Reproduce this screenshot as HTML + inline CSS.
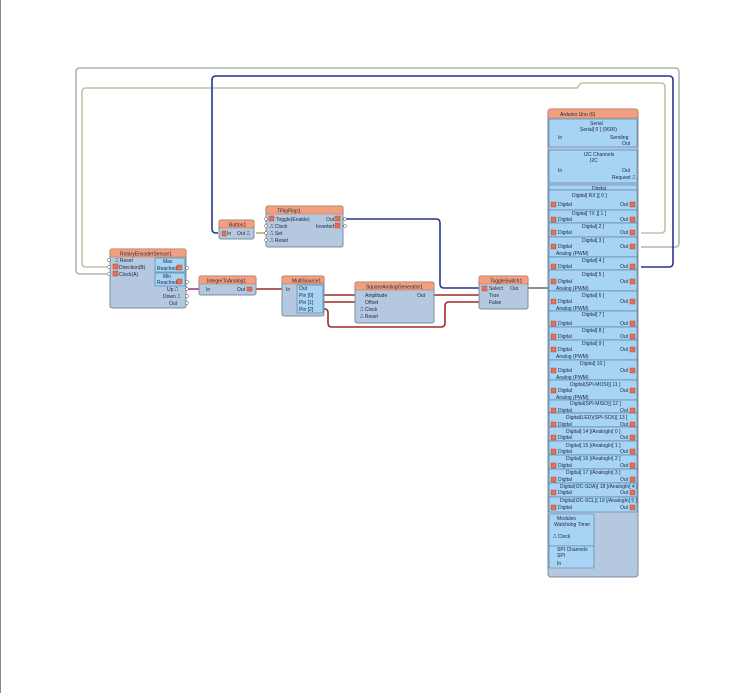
<!DOCTYPE html>
<html><head><meta charset="utf-8"><style>
html,body{margin:0;padding:0;background:#fff}
svg{display:block}
text{font-family:"Liberation Sans",sans-serif;font-size:5px;fill:#1a2540}
.b{fill:#b4c8e0;stroke:#7f8c9c;stroke-width:1}
.t{fill:#f0a080;stroke:#c07050;stroke-width:.6}
.s{fill:#a8d4f4;stroke:#5078a0;stroke-width:.6}
.p{fill:#fff;stroke:#555;stroke-width:.5}
.r{fill:#e87050;stroke:#a04030;stroke-width:.4}
</style></head><body>
<svg width="748" height="693" viewBox="0 0 748 693" xmlns="http://www.w3.org/2000/svg">
<line x1="0.5" y1="0" x2="0.5" y2="693" stroke="#888"/>
<!-- long wires -->
<g fill="none" stroke-width="1.6" stroke-linejoin="round">
<path d="M107,274 H80 Q76,274 76,270 V72 Q76,68 80,68 H675 Q679,68 679,72 V243 Q679,247 675,247 H641" stroke="#a8b8b0"/>
<path d="M107,267 H86 Q82,267 82,263 V92 Q82,88 86,88 H577 L581,83 H661 Q665,83 665,87 V229 Q665,233 661,233 H641" stroke="#c0c0a8"/>
<path d="M218,233 H216 Q212,233 212,229 V80 Q212,76 216,76 H669 Q673,76 673,80 V263 Q673,267 669,267 H641" stroke="#2a3590"/>
<path d="M346,219 H436 Q440,219 440,223 V284 Q440,288 444,288 H479" stroke="#2a3590"/>
<path d="M256,233 H267" stroke="#c8a850"/>
<path d="M187,289 H200" stroke="#a03898"/>
<path d="M256,289 H284" stroke="#a02828"/>
<path d="M323,295 H356 M323,302 H356 M434,295 H479" stroke="#a02828"/>
<path d="M323,309 H325 Q328,309 328,313 V323 Q328,327 332,327 H441 Q445,327 445,323 V306 Q445,302 449,302 H479" stroke="#a02828"/>
<path d="M528,288 H549" stroke="#606870"/>
</g>
<!-- Rotary encoder -->
<rect class="b" x="110" y="249" width="76" height="59" rx="2"/>
<rect class="t" x="110" y="249" width="76" height="8" rx="2"/>
<text x="120" y="255.5">RotaryEncoderSensor1</text>
<text x="115" y="262">⎍ Reset</text><text x="119" y="269">Direction(B)</text><text x="119" y="276">Clock(A)</text>
<rect class="r" x="113" y="264" width="5" height="5"/><rect class="r" x="113" y="271" width="5" height="5"/>
<rect class="s" x="155" y="258" width="30" height="14"/><text x="163" y="263">Max</text><text x="157" y="270">Reached</text><rect class="r" x="177" y="265" width="5" height="5"/>
<rect class="s" x="155" y="273" width="30" height="13"/><text x="163" y="278">Min</text><text x="157" y="284">Reached</text><rect class="r" x="177" y="279" width="5" height="5"/>
<text x="167" y="291">Up ⎍</text><text x="163" y="298">Down ⎍</text><text x="169" y="305">Out</text>
<g class="p"><circle cx="109" cy="260" r="1.5"/><circle cx="109" cy="267" r="1.5"/><circle cx="109" cy="274" r="1.5"/><circle cx="187" cy="268" r="1.5"/><circle cx="187" cy="282" r="1.5"/><circle cx="187" cy="289" r="1.5"/><circle cx="187" cy="296" r="1.5"/><circle cx="187" cy="303" r="1.5"/></g>
<!-- Integer to analog -->
<rect class="b" x="199" y="276" width="57" height="19" rx="2"/>
<rect class="t" x="199" y="276" width="57" height="8" rx="2"/>
<text x="207" y="282.5">IntegerToAnalog1</text>
<text x="206" y="291">In</text><text x="237" y="291">Out</text><rect class="r" x="247" y="287" width="5" height="4"/>
<!-- Button -->
<rect class="b" x="219" y="220" width="35" height="19" rx="2"/>
<rect class="t" x="219" y="220" width="35" height="8" rx="2"/>
<text x="229" y="226.5">Button1</text>
<rect class="r" x="222" y="231" width="4" height="5"/><text x="227" y="235">In</text><text x="237" y="235">Out ⎍</text>
<!-- FlipFlop -->
<rect class="b" x="266" y="206" width="77" height="41" rx="2"/>
<rect class="t" x="266" y="206" width="77" height="8" rx="2"/>
<text x="277" y="212.5">TFlipFlop1</text>
<rect class="r" x="269" y="216" width="5" height="5"/><text x="276" y="221">Toggle(Enable)</text>
<text x="270" y="228">⎍ Clock</text><text x="270" y="235">⎍ Set</text><text x="270" y="242">⎍ Reset</text>
<text x="326" y="221">Out</text><text x="316" y="228">Inverted</text>
<rect class="r" x="335" y="216" width="5" height="5"/><rect class="r" x="335" y="223" width="5" height="5"/>
<g class="p"><circle cx="345" cy="219" r="1.5"/><circle cx="345" cy="226" r="1.5"/><circle cx="266" cy="219" r="1.5"/><circle cx="266" cy="226" r="1.5"/><circle cx="266" cy="233" r="1.5"/><circle cx="266" cy="240" r="1.5"/></g>
<!-- MultiSource -->
<rect class="b" x="282" y="276" width="42" height="40" rx="2"/>
<rect class="t" x="282" y="276" width="42" height="8" rx="2"/>
<text x="292" y="282.5">MultiSource1</text>
<text x="286" y="291">In</text>
<rect class="s" x="297" y="285" width="26" height="28"/>
<text x="299" y="290">Out</text><text x="299" y="297">Pin [0]</text><text x="299" y="304">Pin [1]</text><text x="299" y="311">Pin [2]</text>
<!-- Square generator -->
<rect class="b" x="355" y="282" width="79" height="41" rx="2"/>
<rect class="t" x="355" y="282" width="79" height="8" rx="2"/>
<text x="366" y="288.5">SquareAnalogGenerator1</text>
<text x="365" y="297">Amplitude</text><text x="365" y="304">Offset</text><text x="360" y="311">⎍ Clock</text><text x="360" y="318">⎍ Reset</text>
<text x="417" y="297">Out</text>
<!-- Toggle switch -->
<rect class="b" x="479" y="276" width="49" height="33" rx="2"/>
<rect class="t" x="479" y="276" width="49" height="8" rx="2"/>
<text x="490" y="282.5">ToggleSwitch1</text>
<rect class="r" x="482" y="286" width="5" height="5"/>
<text x="489" y="290">Select</text><text x="489" y="297">True</text><text x="489" y="304">False</text><text x="510" y="290">Out</text>
<!-- Arduino -->
<rect class="b" x="548" y="109" width="90" height="468" rx="3"/>
<rect class="t" x="548" y="109" width="90" height="9" rx="2"/>
<text x="560" y="116">Arduino Uno (6)</text>
<rect class="s" x="549" y="119" width="88" height="28"/>
<text x="590" y="125">Serial</text><text x="580" y="131">Serial[ 0 ] (9600)</text>
<text x="558" y="139">In</text><text x="610" y="139">Sending</text><text x="622" y="145">Out</text>
<rect class="s" x="549" y="150" width="88" height="33"/>
<text x="584" y="156">I2C Channels</text><text x="590" y="162">I2C</text>
<text x="558" y="172">In</text><text x="622" y="172">Out</text><text x="612" y="179">Request ⎍</text>
<rect class="s" x="549" y="185" width="88" height="5"/>
<text x="592" y="190">Digital</text>
<g id="secs">
<rect class="s" x="549" y="190" width="88" height="20"/><text x="572" y="197">Digital[ RX ][ 0 ]</text>
<rect class="s" x="549" y="210" width="88" height="13"/><text x="572" y="215">Digital[ TX ][ 1 ]</text>
<rect class="s" x="549" y="223" width="88" height="14"/><text x="582" y="228">Digital[ 2 ]</text>
<rect class="s" x="549" y="237" width="88" height="20"/><text x="582" y="242">Digital[ 3 ]</text>
<rect class="s" x="549" y="257" width="88" height="13"/><text x="582" y="262">Digital[ 4 ]</text>
<rect class="s" x="549" y="270" width="88" height="21"/><text x="582" y="276">Digital[ 5 ]</text>
<rect class="s" x="549" y="291" width="88" height="20"/><text x="582" y="297">Digital[ 6 ]</text>
<rect class="s" x="549" y="311" width="88" height="16"/><text x="582" y="316">Digital[ 7 ]</text>
<rect class="s" x="549" y="327" width="88" height="13"/><text x="582" y="332">Digital[ 8 ]</text>
<rect class="s" x="549" y="340" width="88" height="20"/><text x="582" y="345">Digital[ 9 ]</text>
<rect class="s" x="549" y="360" width="88" height="20"/><text x="580" y="365">Digital[ 10 ]</text>
<rect class="s" x="549" y="380" width="88" height="20"/><text x="570" y="386">Digital(SPI-MOSI)[ 11 ]</text>
<rect class="s" x="549" y="400" width="88" height="13"/><text x="570" y="405">Digital(SPI-MISO)[ 12 ]</text>
<rect class="s" x="549" y="413" width="88" height="14"/><text x="566" y="419">Digital(LED)(SPI-SCK)[ 13 ]</text>
<rect class="s" x="549" y="427" width="88" height="14"/><text x="566" y="433">Digital[ 14 ]/AnalogIn[ 0 ]</text>
<rect class="s" x="549" y="441" width="88" height="14"/><text x="566" y="447">Digital[ 15 ]/AnalogIn[ 1 ]</text>
<rect class="s" x="549" y="455" width="88" height="14"/><text x="566" y="460">Digital[ 16 ]/AnalogIn[ 2 ]</text>
<rect class="s" x="549" y="469" width="88" height="14"/><text x="566" y="474">Digital[ 17 ]/AnalogIn[ 3 ]</text>
<rect class="s" x="549" y="483" width="88" height="14"/><text x="560" y="488">Digital(I2C-SDA)[ 18 ]/AnalogIn[ 4 ]</text>
<rect class="s" x="549" y="497" width="88" height="15"/><text x="560" y="502">Digital(I2C-SCL)[ 19 ]/AnalogIn[ 5 ]</text>
</g>
<g>
<text x="558" y="206">Digital</text><text x="620" y="206">Out</text>
<text x="558" y="221">Digital</text><text x="620" y="221">Out</text>
<text x="558" y="234">Digital</text><text x="620" y="234">Out</text>
<text x="558" y="248">Digital</text><text x="620" y="248">Out</text><text x="556" y="255">Analog (PWM)</text>
<text x="558" y="268">Digital</text><text x="620" y="268">Out</text>
<text x="558" y="283">Digital</text><text x="620" y="283">Out</text><text x="556" y="290">Analog (PWM)</text>
<text x="558" y="303">Digital</text><text x="620" y="303">Out</text><text x="556" y="310">Analog (PWM)</text>
<text x="558" y="325">Digital</text><text x="620" y="325">Out</text>
<text x="558" y="338">Digital</text><text x="620" y="338">Out</text>
<text x="558" y="351">Digital</text><text x="620" y="351">Out</text><text x="556" y="358">Analog (PWM)</text>
<text x="558" y="372">Digital</text><text x="620" y="372">Out</text><text x="556" y="379">Analog (PWM)</text>
<text x="558" y="392">Digital</text><text x="620" y="392">Out</text><text x="556" y="399">Analog (PWM)</text>
<text x="558" y="412">Digital</text><text x="620" y="412">Out</text>
<text x="558" y="426">Digital</text><text x="620" y="426">Out</text>
<text x="558" y="439">Digital</text><text x="620" y="439">Out</text>
<text x="558" y="453">Digital</text><text x="620" y="453">Out</text>
<text x="558" y="467">Digital</text><text x="620" y="467">Out</text>
<text x="558" y="481">Digital</text><text x="620" y="481">Out</text>
<text x="558" y="494">Digital</text><text x="620" y="494">Out</text>
<text x="558" y="509">Digital</text><text x="620" y="509">Out</text>
</g>
<g class="r">
<rect x="551" y="202" width="5" height="5"/><rect x="630" y="202" width="5" height="5"/>
<rect x="551" y="217" width="5" height="5"/><rect x="630" y="217" width="5" height="5"/>
<rect x="551" y="230" width="5" height="5"/><rect x="630" y="230" width="5" height="5"/>
<rect x="551" y="244" width="5" height="5"/><rect x="630" y="244" width="5" height="5"/>
<rect x="551" y="264" width="5" height="5"/><rect x="630" y="264" width="5" height="5"/>
<rect x="551" y="279" width="5" height="5"/><rect x="630" y="279" width="5" height="5"/>
<rect x="551" y="299" width="5" height="5"/><rect x="630" y="299" width="5" height="5"/>
<rect x="551" y="321" width="5" height="5"/><rect x="630" y="321" width="5" height="5"/>
<rect x="551" y="334" width="5" height="5"/><rect x="630" y="334" width="5" height="5"/>
<rect x="551" y="347" width="5" height="5"/><rect x="630" y="347" width="5" height="5"/>
<rect x="551" y="368" width="5" height="5"/><rect x="630" y="368" width="5" height="5"/>
<rect x="551" y="388" width="5" height="5"/><rect x="630" y="388" width="5" height="5"/>
<rect x="551" y="408" width="5" height="5"/><rect x="630" y="408" width="5" height="5"/>
<rect x="551" y="422" width="5" height="5"/><rect x="551" y="435" width="5" height="5"/><rect x="551" y="449" width="5" height="5"/>
<rect x="551" y="463" width="5" height="5"/><rect x="551" y="477" width="5" height="5"/><rect x="551" y="490" width="5" height="5"/><rect x="551" y="505" width="5" height="5"/>
<rect x="630" y="422" width="5" height="5"/><rect x="630" y="435" width="5" height="5"/><rect x="630" y="449" width="5" height="5"/>
<rect x="630" y="463" width="5" height="5"/><rect x="630" y="477" width="5" height="5"/><rect x="630" y="490" width="5" height="5"/><rect x="630" y="505" width="5" height="5"/>
</g>
<rect class="s" x="549" y="514" width="45" height="32" rx="1"/>
<text x="557" y="520">Modules</text><text x="554" y="526">Watchdog Timer</text><text x="553" y="538">⎍ Clock</text>
<rect class="s" x="549" y="546" width="45" height="22" rx="1"/>
<text x="557" y="551">SPI Channels</text><text x="557" y="557">SPI</text><text x="557" y="565">In</text>
</svg>
</body></html>
